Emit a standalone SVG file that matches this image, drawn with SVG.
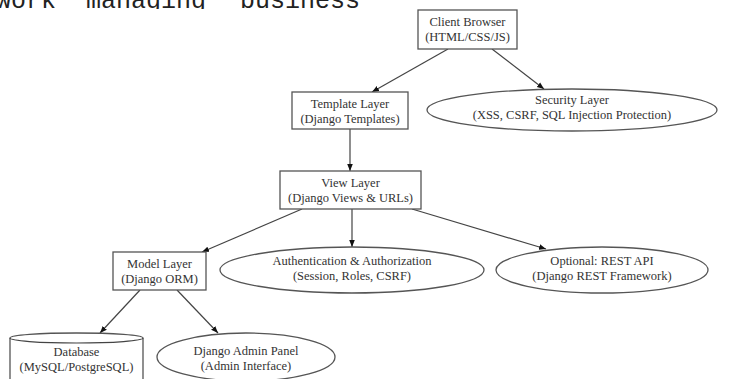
<svg xmlns="http://www.w3.org/2000/svg" width="731" height="379" viewBox="0 0 731 379">
<defs>
<style>
.n{fill:#fff;stroke:#555;stroke-width:1.3}
.t{font-family:"Liberation Serif","Times New Roman",serif;font-size:12.5px;fill:#333;text-anchor:middle}
.e{fill:none;stroke:#444;stroke-width:1.2}
.top{font-family:"Liberation Mono","Courier New",monospace;font-size:25px;fill:#222}
</style>
<marker id="ah" viewBox="0 0 10 10" refX="10" refY="5" markerWidth="7" markerHeight="7" orient="auto" markerUnits="userSpaceOnUse">
<path d="M0,1 L10,5 L0,9 Z" fill="#111"/>
</marker>
<clipPath id="cl"><rect x="0" y="0" width="731" height="9"/></clipPath>
</defs>
<rect width="731" height="379" fill="#fff"/>
<g id="page-text" clip-path="url(#cl)">
<text class="top" y="8"><tspan x="-4">work</tspan><tspan x="86">managing</tspan><tspan x="240">business</tspan></text>
</g>
<g id="connectors">
<line class="e" x1="448" y1="49" x2="372" y2="92" marker-end="url(#ah)"/>
<line class="e" x1="492" y1="49" x2="544" y2="89" marker-end="url(#ah)"/>
<line class="e" x1="350" y1="129" x2="350" y2="171" marker-end="url(#ah)"/>
<line class="e" x1="302" y1="209" x2="202" y2="252" marker-end="url(#ah)"/>
<line class="e" x1="352" y1="209" x2="352" y2="247" marker-end="url(#ah)"/>
<line class="e" x1="412" y1="209" x2="546" y2="249" marker-end="url(#ah)"/>
<line class="e" x1="140" y1="290" x2="100" y2="333" marker-end="url(#ah)"/>
<line class="e" x1="177" y1="290" x2="218" y2="333" marker-end="url(#ah)"/>
</g>
<g id="client">
<rect class="n" x="418" y="10" width="99" height="39"/>
<text class="t" x="467.5" y="26">Client Browser</text>
<text class="t" x="467.5" y="41">(HTML/CSS/JS)</text>
</g>
<g id="template">
<rect class="n" x="292" y="92" width="116" height="37"/>
<text class="t" x="350" y="108">Template Layer</text>
<text class="t" x="350" y="123">(Django Templates)</text>
</g>
<g id="security">
<ellipse class="n" cx="572" cy="110" rx="145" ry="21"/>
<text class="t" x="572" y="104">Security Layer</text>
<text class="t" x="572" y="119">(XSS, CSRF, SQL Injection Protection)</text>
</g>
<g id="view">
<rect class="n" x="280" y="171" width="141" height="38"/>
<text class="t" x="350.5" y="187">View Layer</text>
<text class="t" x="350.5" y="202">(Django Views &amp; URLs)</text>
</g>
<g id="model">
<rect class="n" x="113" y="252" width="93" height="38"/>
<text class="t" x="159.5" y="268">Model Layer</text>
<text class="t" x="159.5" y="283">(Django ORM)</text>
</g>
<g id="auth">
<ellipse class="n" cx="352" cy="270" rx="132" ry="23"/>
<text class="t" x="352" y="265">Authentication &amp; Authorization</text>
<text class="t" x="352" y="280">(Session, Roles, CSRF)</text>
</g>
<g id="rest">
<ellipse class="n" cx="602" cy="270" rx="106" ry="23"/>
<text class="t" x="602" y="265">Optional: REST API</text>
<text class="t" x="602" y="280">(Django REST Framework)</text>
</g>
<g id="database">
<path class="n" d="M10,338 A66.5,5 0 0,1 143,338 L143,385 L10,385 Z"/>
<path class="e" d="M10,338 A66.5,5 0 0,0 143,338" stroke="#555" stroke-width="1.3"/>
<text class="t" x="76.5" y="356">Database</text>
<text class="t" x="76.5" y="371">(MySQL/PostgreSQL)</text>
</g>
<g id="admin">
<ellipse class="n" cx="246" cy="357" rx="89" ry="24"/>
<text class="t" x="246" y="355">Django Admin Panel</text>
<text class="t" x="246" y="370">(Admin Interface)</text>
</g>
</svg>
